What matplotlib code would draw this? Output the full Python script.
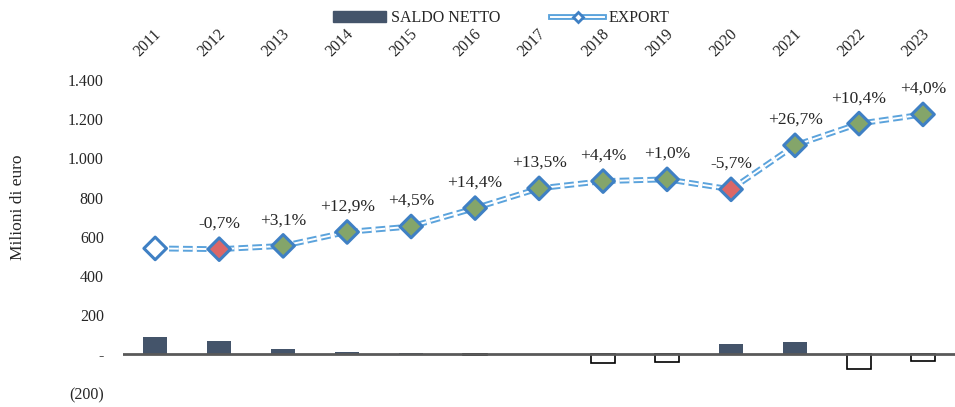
import matplotlib.pyplot as plt
from matplotlib.lines import Line2D
from matplotlib.patches import Patch
from matplotlib.ticker import FuncFormatter

plt.rcParams["font.family"] = ["Liberation Serif", "DejaVu Serif"]
plt.rcParams["lines.scale_dashes"] = False

years = ["2011", "2012", "2013", "2014", "2015", "2016", "2017",
         "2018", "2019", "2020", "2021", "2022", "2023"]
export = [540, 536, 553, 624, 652, 746, 847, 884, 893, 842, 1067, 1178, 1225]
saldo = [87, 68, 27, 12, 4, -3, 2, -45, -41, 50, 60, -75, -37]
growth = ["", "-0,7%", "+3,1%", "+12,9%", "+4,5%", "+14,4%", "+13,5%",
          "+4,4%", "+1,0%", "-5,7%", "+26,7%", "+10,4%", "+4,0%"]

BAR_COLOR = "#44546A"
LINE_COLOR = "#5BA3DC"
EDGE_COLOR = "#3F80C4"
UP_COLOR = "#84A56A"
DOWN_COLOR = "#DB6767"
TEXT_COLOR = "#262626"

fig = plt.figure(figsize=(9.55, 4.07), dpi=100)
ax = fig.add_axes([0.129, 0.034, 0.871, 0.769])

x = list(range(len(years)))

# net balance bars: negatives drawn hollow
for xi, v in zip(x, saldo):
    if v >= 0:
        ax.bar(xi, v, width=0.37, color=BAR_COLOR, zorder=2)
    else:
        ax.bar(xi, v, width=0.37, facecolor="white", edgecolor="black",
               linewidth=1.2, zorder=2)

ax.axhline(0, color="#595959", linewidth=2, zorder=3)

# export: double dashed line
dash = (7, 3)
ax.plot(x, export, color=LINE_COLOR, linewidth=4.2, dashes=dash, zorder=4)
ax.plot(x, export, color="white", linewidth=1.4, dashes=dash, zorder=5)

faces = ["white"]
for label in growth[1:]:
    faces.append(DOWN_COLOR if label.startswith("-") else UP_COLOR)
ax.scatter(x, export, marker="D", s=11.5 ** 2, c=faces, edgecolors=EDGE_COLOR,
           linewidths=2.2, zorder=6)

for xi, v, label in zip(x, export, growth):
    if label:
        ax.annotate(label, (xi, v), xytext=(0, 12.5), textcoords="offset points",
                    ha="center", va="bottom", fontsize=12.5, color=TEXT_COLOR,
                    annotation_clip=False, zorder=7)

ax.set_xlim(-0.5, len(years) - 0.5)
ax.set_ylim(-200, 1400)
ax.set_yticks(range(-200, 1401, 200))


def fmt(v, pos):
    v = int(round(v))
    if v == 0:
        return "-"
    if v < 0:
        return "({:,})".format(-v).replace(",", ".")
    return "{:,}".format(v).replace(",", ".")


ax.yaxis.set_major_formatter(FuncFormatter(fmt))
ax.tick_params(axis="y", length=0, pad=14, labelsize=11.5, labelcolor=TEXT_COLOR)
ax.set_xticks([])
for side in ax.spines.values():
    side.set_visible(False)

# year labels along the top
for xi, yr in zip(x, years):
    ax.text(xi - 0.12, 1.12, yr, transform=ax.get_xaxis_transform(),
            rotation=45, ha="center", va="center", fontsize=11.5,
            color=TEXT_COLOR, clip_on=False)

fig.text(0.019, 0.49, "Milioni di euro", rotation=90, ha="center",
         va="center", fontsize=12.5, color=TEXT_COLOR)

handles = [
    Patch(facecolor=BAR_COLOR, edgecolor=BAR_COLOR),
    (Line2D([], [], color=LINE_COLOR, linewidth=4.2),
     Line2D([], [], color="white", linewidth=1.4),
     Line2D([], [], marker="D", markersize=5, color="none",
            markerfacecolor="white", markeredgecolor=EDGE_COLOR,
            markeredgewidth=2)),
]
fig.legend(handles, ["SALDO NETTO", "EXPORT"], loc="upper center",
           bbox_to_anchor=(0.525, 1.01), ncol=2, frameon=False, fontsize=11.5,
           handlelength=3.3, handletextpad=0.3, columnspacing=3.2,
           labelcolor=TEXT_COLOR)

fig.savefig("out.png", dpi=100)
